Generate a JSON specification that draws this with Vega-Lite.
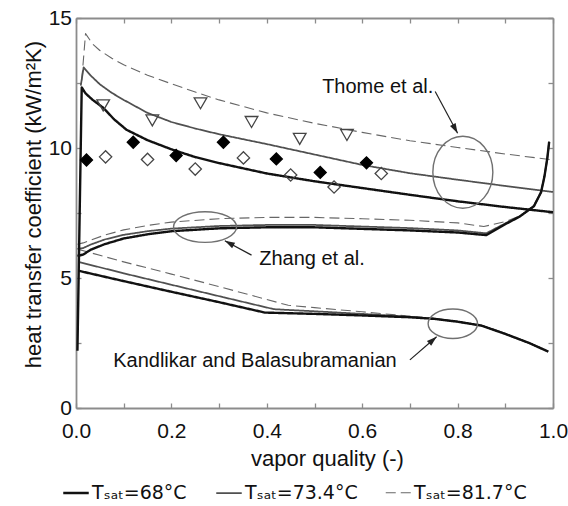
{
  "$schema": "https://vega.github.io/schema/vega-lite/v6.json",
  "width": 477,
  "height": 390,
  "autosize": {"type": "none"},
  "padding": {"left": 76, "top": 18, "right": 15, "bottom": 98},
  "background": "white",
  "config": {
    "view": {"stroke": null},
    "font": "Liberation Sans",
    "axis": {
      "grid": false,
      "domainColor": "#8c8c8c",
      "domainWidth": 1.8,
      "tickColor": "#8c8c8c",
      "tickWidth": 1.3,
      "tickSize": -5,
      "labelFont": "Liberation Sans",
      "labelFontSize": 21,
      "labelColor": "#111111",
      "labelFlush": false,
      "labelOverlap": false,
      "titleFont": "Liberation Sans",
      "titleFontSize": 22,
      "titleFontWeight": "normal",
      "titleColor": "#111111"
    }
  },
  "datasets": {
    "curves": [
      {"series": "Tₛₐₜ=81.7°C", "model": "Thome", "x": 0.012, "y": 12.6},
      {"series": "Tₛₐₜ=81.7°C", "model": "Thome", "x": 0.02, "y": 14.4},
      {"series": "Tₛₐₜ=81.7°C", "model": "Thome", "x": 0.035, "y": 14.0},
      {"series": "Tₛₐₜ=81.7°C", "model": "Thome", "x": 0.05, "y": 13.75},
      {"series": "Tₛₐₜ=81.7°C", "model": "Thome", "x": 0.075, "y": 13.45},
      {"series": "Tₛₐₜ=81.7°C", "model": "Thome", "x": 0.1, "y": 13.2},
      {"series": "Tₛₐₜ=81.7°C", "model": "Thome", "x": 0.15, "y": 12.8},
      {"series": "Tₛₐₜ=81.7°C", "model": "Thome", "x": 0.2, "y": 12.47},
      {"series": "Tₛₐₜ=81.7°C", "model": "Thome", "x": 0.25, "y": 12.15},
      {"series": "Tₛₐₜ=81.7°C", "model": "Thome", "x": 0.3, "y": 11.85},
      {"series": "Tₛₐₜ=81.7°C", "model": "Thome", "x": 0.4, "y": 11.35},
      {"series": "Tₛₐₜ=81.7°C", "model": "Thome", "x": 0.5, "y": 10.95},
      {"series": "Tₛₐₜ=81.7°C", "model": "Thome", "x": 0.6, "y": 10.6},
      {"series": "Tₛₐₜ=81.7°C", "model": "Thome", "x": 0.7, "y": 10.28},
      {"series": "Tₛₐₜ=81.7°C", "model": "Thome", "x": 0.8, "y": 10.02},
      {"series": "Tₛₐₜ=81.7°C", "model": "Thome", "x": 0.9, "y": 9.77},
      {"series": "Tₛₐₜ=81.7°C", "model": "Thome", "x": 1.0, "y": 9.54},
      {"series": "Tₛₐₜ=81.7°C", "model": "Zhang", "x": 0.003, "y": 6.3},
      {"series": "Tₛₐₜ=81.7°C", "model": "Zhang", "x": 0.015, "y": 6.35},
      {"series": "Tₛₐₜ=81.7°C", "model": "Zhang", "x": 0.03, "y": 6.45},
      {"series": "Tₛₐₜ=81.7°C", "model": "Zhang", "x": 0.06, "y": 6.65},
      {"series": "Tₛₐₜ=81.7°C", "model": "Zhang", "x": 0.1, "y": 6.85},
      {"series": "Tₛₐₜ=81.7°C", "model": "Zhang", "x": 0.15, "y": 7.02},
      {"series": "Tₛₐₜ=81.7°C", "model": "Zhang", "x": 0.2, "y": 7.15},
      {"series": "Tₛₐₜ=81.7°C", "model": "Zhang", "x": 0.3, "y": 7.28},
      {"series": "Tₛₐₜ=81.7°C", "model": "Zhang", "x": 0.4, "y": 7.33},
      {"series": "Tₛₐₜ=81.7°C", "model": "Zhang", "x": 0.5, "y": 7.33},
      {"series": "Tₛₐₜ=81.7°C", "model": "Zhang", "x": 0.6, "y": 7.28},
      {"series": "Tₛₐₜ=81.7°C", "model": "Zhang", "x": 0.7, "y": 7.22},
      {"series": "Tₛₐₜ=81.7°C", "model": "Zhang", "x": 0.8, "y": 7.12},
      {"series": "Tₛₐₜ=81.7°C", "model": "Zhang", "x": 0.855, "y": 6.98},
      {"series": "Tₛₐₜ=81.7°C", "model": "Zhang", "x": 0.9, "y": 7.17},
      {"series": "Tₛₐₜ=81.7°C", "model": "Zhang", "x": 0.93, "y": 7.38},
      {"series": "Tₛₐₜ=81.7°C", "model": "Zhang", "x": 0.945, "y": 7.55},
      {"series": "Tₛₐₜ=81.7°C", "model": "Zhang", "x": 0.96, "y": 7.78},
      {"series": "Tₛₐₜ=81.7°C", "model": "Zhang", "x": 0.975, "y": 8.3},
      {"series": "Tₛₐₜ=81.7°C", "model": "Zhang", "x": 0.982, "y": 8.9},
      {"series": "Tₛₐₜ=81.7°C", "model": "Zhang", "x": 0.988, "y": 9.6},
      {"series": "Tₛₐₜ=81.7°C", "model": "Zhang", "x": 0.992, "y": 10.24},
      {"series": "Tₛₐₜ=81.7°C", "model": "Kandlikar", "x": 0.005, "y": 6.1},
      {"series": "Tₛₐₜ=81.7°C", "model": "Kandlikar", "x": 0.1, "y": 5.62},
      {"series": "Tₛₐₜ=81.7°C", "model": "Kandlikar", "x": 0.2, "y": 5.15},
      {"series": "Tₛₐₜ=81.7°C", "model": "Kandlikar", "x": 0.3, "y": 4.67},
      {"series": "Tₛₐₜ=81.7°C", "model": "Kandlikar", "x": 0.445, "y": 3.95},
      {"series": "Tₛₐₜ=81.7°C", "model": "Kandlikar", "x": 0.5, "y": 3.86},
      {"series": "Tₛₐₜ=81.7°C", "model": "Kandlikar", "x": 0.6, "y": 3.7},
      {"series": "Tₛₐₜ=81.7°C", "model": "Kandlikar", "x": 0.7, "y": 3.53},
      {"series": "Tₛₐₜ=81.7°C", "model": "Kandlikar", "x": 0.75, "y": 3.44},
      {"series": "Tₛₐₜ=81.7°C", "model": "Kandlikar", "x": 0.8, "y": 3.32},
      {"series": "Tₛₐₜ=81.7°C", "model": "Kandlikar", "x": 0.85, "y": 3.17},
      {"series": "Tₛₐₜ=81.7°C", "model": "Kandlikar", "x": 0.9, "y": 2.85},
      {"series": "Tₛₐₜ=81.7°C", "model": "Kandlikar", "x": 0.95, "y": 2.5},
      {"series": "Tₛₐₜ=81.7°C", "model": "Kandlikar", "x": 0.99, "y": 2.17},

      {"series": "Tₛₐₜ=73.4°C", "model": "Thome", "x": 0.01, "y": 12.4},
      {"series": "Tₛₐₜ=73.4°C", "model": "Thome", "x": 0.016, "y": 13.1},
      {"series": "Tₛₐₜ=73.4°C", "model": "Thome", "x": 0.03, "y": 12.8},
      {"series": "Tₛₐₜ=73.4°C", "model": "Thome", "x": 0.05, "y": 12.45},
      {"series": "Tₛₐₜ=73.4°C", "model": "Thome", "x": 0.075, "y": 12.12},
      {"series": "Tₛₐₜ=73.4°C", "model": "Thome", "x": 0.1, "y": 11.85},
      {"series": "Tₛₐₜ=73.4°C", "model": "Thome", "x": 0.15, "y": 11.35},
      {"series": "Tₛₐₜ=73.4°C", "model": "Thome", "x": 0.2, "y": 11.0},
      {"series": "Tₛₐₜ=73.4°C", "model": "Thome", "x": 0.25, "y": 10.75},
      {"series": "Tₛₐₜ=73.4°C", "model": "Thome", "x": 0.3, "y": 10.53},
      {"series": "Tₛₐₜ=73.4°C", "model": "Thome", "x": 0.4, "y": 10.15},
      {"series": "Tₛₐₜ=73.4°C", "model": "Thome", "x": 0.5, "y": 9.75},
      {"series": "Tₛₐₜ=73.4°C", "model": "Thome", "x": 0.6, "y": 9.35},
      {"series": "Tₛₐₜ=73.4°C", "model": "Thome", "x": 0.7, "y": 9.03},
      {"series": "Tₛₐₜ=73.4°C", "model": "Thome", "x": 0.8, "y": 8.78},
      {"series": "Tₛₐₜ=73.4°C", "model": "Thome", "x": 0.9, "y": 8.54},
      {"series": "Tₛₐₜ=73.4°C", "model": "Thome", "x": 1.0, "y": 8.31},
      {"series": "Tₛₐₜ=73.4°C", "model": "Zhang", "x": 0.003, "y": 6.12},
      {"series": "Tₛₐₜ=73.4°C", "model": "Zhang", "x": 0.015, "y": 6.15},
      {"series": "Tₛₐₜ=73.4°C", "model": "Zhang", "x": 0.03, "y": 6.28},
      {"series": "Tₛₐₜ=73.4°C", "model": "Zhang", "x": 0.06, "y": 6.48},
      {"series": "Tₛₐₜ=73.4°C", "model": "Zhang", "x": 0.1, "y": 6.66},
      {"series": "Tₛₐₜ=73.4°C", "model": "Zhang", "x": 0.15, "y": 6.8},
      {"series": "Tₛₐₜ=73.4°C", "model": "Zhang", "x": 0.2, "y": 6.9},
      {"series": "Tₛₐₜ=73.4°C", "model": "Zhang", "x": 0.3, "y": 7.0},
      {"series": "Tₛₐₜ=73.4°C", "model": "Zhang", "x": 0.4, "y": 7.04},
      {"series": "Tₛₐₜ=73.4°C", "model": "Zhang", "x": 0.5, "y": 7.04},
      {"series": "Tₛₐₜ=73.4°C", "model": "Zhang", "x": 0.6, "y": 6.98},
      {"series": "Tₛₐₜ=73.4°C", "model": "Zhang", "x": 0.7, "y": 6.92},
      {"series": "Tₛₐₜ=73.4°C", "model": "Zhang", "x": 0.8, "y": 6.83},
      {"series": "Tₛₐₜ=73.4°C", "model": "Zhang", "x": 0.86, "y": 6.72},
      {"series": "Tₛₐₜ=73.4°C", "model": "Zhang", "x": 0.9, "y": 7.1},
      {"series": "Tₛₐₜ=73.4°C", "model": "Zhang", "x": 0.93, "y": 7.37},
      {"series": "Tₛₐₜ=73.4°C", "model": "Zhang", "x": 0.96, "y": 7.77},
      {"series": "Tₛₐₜ=73.4°C", "model": "Zhang", "x": 0.975, "y": 8.3},
      {"series": "Tₛₐₜ=73.4°C", "model": "Zhang", "x": 0.982, "y": 8.9},
      {"series": "Tₛₐₜ=73.4°C", "model": "Zhang", "x": 0.988, "y": 9.6},
      {"series": "Tₛₐₜ=73.4°C", "model": "Zhang", "x": 0.992, "y": 10.24},
      {"series": "Tₛₐₜ=73.4°C", "model": "Kandlikar", "x": 0.005, "y": 5.62},
      {"series": "Tₛₐₜ=73.4°C", "model": "Kandlikar", "x": 0.1, "y": 5.18},
      {"series": "Tₛₐₜ=73.4°C", "model": "Kandlikar", "x": 0.2, "y": 4.74},
      {"series": "Tₛₐₜ=73.4°C", "model": "Kandlikar", "x": 0.3, "y": 4.3},
      {"series": "Tₛₐₜ=73.4°C", "model": "Kandlikar", "x": 0.415, "y": 3.8},
      {"series": "Tₛₐₜ=73.4°C", "model": "Kandlikar", "x": 0.5, "y": 3.72},
      {"series": "Tₛₐₜ=73.4°C", "model": "Kandlikar", "x": 0.6, "y": 3.62},
      {"series": "Tₛₐₜ=73.4°C", "model": "Kandlikar", "x": 0.7, "y": 3.51},
      {"series": "Tₛₐₜ=73.4°C", "model": "Kandlikar", "x": 0.75, "y": 3.44},
      {"series": "Tₛₐₜ=73.4°C", "model": "Kandlikar", "x": 0.8, "y": 3.32},
      {"series": "Tₛₐₜ=73.4°C", "model": "Kandlikar", "x": 0.85, "y": 3.17},
      {"series": "Tₛₐₜ=73.4°C", "model": "Kandlikar", "x": 0.9, "y": 2.85},
      {"series": "Tₛₐₜ=73.4°C", "model": "Kandlikar", "x": 0.95, "y": 2.5},
      {"series": "Tₛₐₜ=73.4°C", "model": "Kandlikar", "x": 0.99, "y": 2.17},

      {"series": "Tₛₐₜ=68°C", "model": "Thome", "x": 0.003, "y": 2.2},
      {"series": "Tₛₐₜ=68°C", "model": "Thome", "x": 0.012, "y": 12.33},
      {"series": "Tₛₐₜ=68°C", "model": "Thome", "x": 0.02, "y": 12.1},
      {"series": "Tₛₐₜ=68°C", "model": "Thome", "x": 0.035, "y": 11.85},
      {"series": "Tₛₐₜ=68°C", "model": "Thome", "x": 0.057, "y": 11.55},
      {"series": "Tₛₐₜ=68°C", "model": "Thome", "x": 0.08, "y": 11.1},
      {"series": "Tₛₐₜ=68°C", "model": "Thome", "x": 0.106, "y": 10.7},
      {"series": "Tₛₐₜ=68°C", "model": "Thome", "x": 0.15, "y": 10.3},
      {"series": "Tₛₐₜ=68°C", "model": "Thome", "x": 0.2, "y": 9.95},
      {"series": "Tₛₐₜ=68°C", "model": "Thome", "x": 0.25, "y": 9.65},
      {"series": "Tₛₐₜ=68°C", "model": "Thome", "x": 0.3, "y": 9.42},
      {"series": "Tₛₐₜ=68°C", "model": "Thome", "x": 0.4, "y": 9.02},
      {"series": "Tₛₐₜ=68°C", "model": "Thome", "x": 0.5, "y": 8.72},
      {"series": "Tₛₐₜ=68°C", "model": "Thome", "x": 0.6, "y": 8.46},
      {"series": "Tₛₐₜ=68°C", "model": "Thome", "x": 0.7, "y": 8.2},
      {"series": "Tₛₐₜ=68°C", "model": "Thome", "x": 0.8, "y": 7.95},
      {"series": "Tₛₐₜ=68°C", "model": "Thome", "x": 0.9, "y": 7.73},
      {"series": "Tₛₐₜ=68°C", "model": "Thome", "x": 1.0, "y": 7.53},
      {"series": "Tₛₐₜ=68°C", "model": "Zhang", "x": 0.003, "y": 5.85},
      {"series": "Tₛₐₜ=68°C", "model": "Zhang", "x": 0.015, "y": 5.9},
      {"series": "Tₛₐₜ=68°C", "model": "Zhang", "x": 0.03, "y": 6.08},
      {"series": "Tₛₐₜ=68°C", "model": "Zhang", "x": 0.06, "y": 6.3},
      {"series": "Tₛₐₜ=68°C", "model": "Zhang", "x": 0.1, "y": 6.52},
      {"series": "Tₛₐₜ=68°C", "model": "Zhang", "x": 0.15, "y": 6.68},
      {"series": "Tₛₐₜ=68°C", "model": "Zhang", "x": 0.2, "y": 6.8},
      {"series": "Tₛₐₜ=68°C", "model": "Zhang", "x": 0.3, "y": 6.91},
      {"series": "Tₛₐₜ=68°C", "model": "Zhang", "x": 0.4, "y": 6.95},
      {"series": "Tₛₐₜ=68°C", "model": "Zhang", "x": 0.5, "y": 6.95},
      {"series": "Tₛₐₜ=68°C", "model": "Zhang", "x": 0.6, "y": 6.89},
      {"series": "Tₛₐₜ=68°C", "model": "Zhang", "x": 0.7, "y": 6.83},
      {"series": "Tₛₐₜ=68°C", "model": "Zhang", "x": 0.8, "y": 6.75},
      {"series": "Tₛₐₜ=68°C", "model": "Zhang", "x": 0.86, "y": 6.65},
      {"series": "Tₛₐₜ=68°C", "model": "Zhang", "x": 0.9, "y": 7.07},
      {"series": "Tₛₐₜ=68°C", "model": "Zhang", "x": 0.93, "y": 7.36},
      {"series": "Tₛₐₜ=68°C", "model": "Zhang", "x": 0.96, "y": 7.76},
      {"series": "Tₛₐₜ=68°C", "model": "Zhang", "x": 0.975, "y": 8.3},
      {"series": "Tₛₐₜ=68°C", "model": "Zhang", "x": 0.982, "y": 8.9},
      {"series": "Tₛₐₜ=68°C", "model": "Zhang", "x": 0.988, "y": 9.6},
      {"series": "Tₛₐₜ=68°C", "model": "Zhang", "x": 0.992, "y": 10.24},
      {"series": "Tₛₐₜ=68°C", "model": "Kandlikar", "x": 0.005, "y": 5.28},
      {"series": "Tₛₐₜ=68°C", "model": "Kandlikar", "x": 0.1, "y": 4.88},
      {"series": "Tₛₐₜ=68°C", "model": "Kandlikar", "x": 0.2, "y": 4.47},
      {"series": "Tₛₐₜ=68°C", "model": "Kandlikar", "x": 0.3, "y": 4.07},
      {"series": "Tₛₐₜ=68°C", "model": "Kandlikar", "x": 0.396, "y": 3.67},
      {"series": "Tₛₐₜ=68°C", "model": "Kandlikar", "x": 0.5, "y": 3.62},
      {"series": "Tₛₐₜ=68°C", "model": "Kandlikar", "x": 0.6, "y": 3.56},
      {"series": "Tₛₐₜ=68°C", "model": "Kandlikar", "x": 0.7, "y": 3.49},
      {"series": "Tₛₐₜ=68°C", "model": "Kandlikar", "x": 0.75, "y": 3.43},
      {"series": "Tₛₐₜ=68°C", "model": "Kandlikar", "x": 0.8, "y": 3.32},
      {"series": "Tₛₐₜ=68°C", "model": "Kandlikar", "x": 0.85, "y": 3.17},
      {"series": "Tₛₐₜ=68°C", "model": "Kandlikar", "x": 0.9, "y": 2.85},
      {"series": "Tₛₐₜ=68°C", "model": "Kandlikar", "x": 0.95, "y": 2.5},
      {"series": "Tₛₐₜ=68°C", "model": "Kandlikar", "x": 0.99, "y": 2.17}
    ],
    "markers": [
      {"set": "68", "x": 0.022, "y": 9.54},
      {"set": "68", "x": 0.12, "y": 10.22},
      {"set": "68", "x": 0.21, "y": 9.71},
      {"set": "68", "x": 0.309, "y": 10.22},
      {"set": "68", "x": 0.42, "y": 9.58},
      {"set": "68", "x": 0.512, "y": 9.06},
      {"set": "68", "x": 0.609, "y": 9.43},
      {"set": "73.4", "x": 0.062, "y": 9.66},
      {"set": "73.4", "x": 0.15, "y": 9.56},
      {"set": "73.4", "x": 0.25, "y": 9.19},
      {"set": "73.4", "x": 0.351, "y": 9.62},
      {"set": "73.4", "x": 0.45, "y": 8.96},
      {"set": "73.4", "x": 0.541, "y": 8.5},
      {"set": "73.4", "x": 0.64, "y": 9.02},
      {"set": "81.7", "x": 0.057, "y": 11.64},
      {"set": "81.7", "x": 0.16, "y": 11.06},
      {"set": "81.7", "x": 0.261, "y": 11.72},
      {"set": "81.7", "x": 0.368, "y": 11.0},
      {"set": "81.7", "x": 0.469, "y": 10.35},
      {"set": "81.7", "x": 0.568, "y": 10.5}
    ],
    "ellipses": [
      {"name": "Thome", "x": 0.811, "y": 9.07},
      {"name": "Zhang", "x": 0.2705, "y": 6.96},
      {"name": "Kandlikar", "x": 0.79, "y": 3.24}
    ],
    "arrows": [
      {"name": "Thome", "x": 0.753, "y": 12.17, "x2": 0.8, "y2": 10.57},
      {"name": "Zhang", "x": 0.368, "y": 5.88, "x2": 0.312, "y2": 6.43},
      {"name": "Kandlikar", "x": 0.7, "y": 1.85, "x2": 0.756, "y2": 2.74}
    ],
    "labels": [
      {"text": "Thome et al.", "x": 0.516, "y": 12.1},
      {"text": "Zhang et al.", "x": 0.384, "y": 5.5},
      {"text": "Kandlikar and Balasubramanian", "x": 0.078, "y": 1.59}
    ]
  },
  "layer": [
    {
      "data": {"name": "curves"},
      "mark": {"type": "line", "strokeJoin": "round"},
      "encoding": {
        "x": {
          "field": "x", "type": "quantitative",
          "scale": {"domain": [0, 1], "nice": false},
          "axis": {
            "orient": "bottom",
            "values": [0, 0.1, 0.2, 0.3, 0.4, 0.5, 0.6, 0.7, 0.8, 0.9, 1],
            "labelExpr": "round(datum.value * 10) % 2 == 0 ? format(datum.value, '.1f') : ''",
            "labelPadding": 17,
            "title": "vapor quality (-)",
            "titleX": 251,
            "titleY": 57,
            "titleBaseline": "alphabetic",
            "titleAlign": "center"
          }
        },
        "y": {
          "field": "y", "type": "quantitative",
          "scale": {"domain": [0, 15], "nice": false},
          "axis": {
            "orient": "left",
            "values": [0, 2.5, 5, 7.5, 10, 12.5, 15],
            "labelExpr": "datum.value % 5 == 0 ? format(datum.value, 'd') : ''",
            "labelPadding": 9.5,
            "title": "heat transfer coefficient (kW/m²K)",
            "titleX": -43,
            "titleY": 186,
            "titleBaseline": "middle",
            "titleAlign": "center",
            "titleFontSize": 22
          }
        },
        "color": {
          "field": "series", "type": "nominal",
          "scale": {"domain": ["Tₛₐₜ=68°C", "Tₛₐₜ=73.4°C", "Tₛₐₜ=81.7°C"], "range": ["#111111", "#505050", "#676767"]},
          "legend": {
            "orient": "none",
            "legendX": -14,
            "legendY": 461,
            "direction": "horizontal",
            "title": null,
            "symbolType": "stroke",
            "symbolSize": 650,
            "labelFont": "DejaVu Sans",
            "labelFontSize": 19,
            "labelColor": "#111111",
            "labelOffset": 2,
            "columnPadding": 25
          }
        },
        "strokeDash": {
          "field": "series", "type": "nominal",
          "scale": {"domain": ["Tₛₐₜ=68°C", "Tₛₐₜ=73.4°C", "Tₛₐₜ=81.7°C"], "range": [[1, 0], [1, 0], [10, 5]]}
        },
        "strokeWidth": {
          "field": "series", "type": "nominal",
          "scale": {"domain": ["Tₛₐₜ=68°C", "Tₛₐₜ=73.4°C", "Tₛₐₜ=81.7°C"], "range": [2.4, 1.1, 1.3]}
        },
        "detail": {"field": "model", "type": "nominal"}
      }
    },
    {
      "data": {"name": "markers"},
      "mark": {"type": "point", "filled": true, "strokeWidth": 1.3, "opacity": 1},
      "encoding": {
        "x": {
          "field": "x", "type": "quantitative",
          "scale": {"domain": [0, 1], "nice": false},
          "axis": {"orient": "top", "labels": false, "title": null, "values": [0, 0.1, 0.2, 0.3, 0.4, 0.5, 0.6, 0.7, 0.8, 0.9, 1]}
        },
        "y": {
          "field": "y", "type": "quantitative",
          "scale": {"domain": [0, 15], "nice": false},
          "axis": {"orient": "right", "labels": false, "title": null, "values": [0, 2.5, 5, 7.5, 10, 12.5, 15]}
        },
        "shape": {"field": "set", "type": "nominal", "scale": {"domain": ["68", "73.4", "81.7"], "range": ["diamond", "diamond", "triangle-down"]}, "legend": null},
        "fill": {"field": "set", "type": "nominal", "scale": {"domain": ["68", "73.4", "81.7"], "range": ["#000000", "transparent", "transparent"]}, "legend": null},
        "stroke": {"field": "set", "type": "nominal", "scale": {"domain": ["68", "73.4", "81.7"], "range": ["#000000", "#454545", "#454545"]}, "legend": null},
        "size": {"field": "set", "type": "ordinal", "scale": {"domain": ["68", "73.4", "81.7"], "range": [144, 160, 200]}, "legend": null}
      }
    },
    {
      "data": {"name": "ellipses"},
      "mark": {"type": "point", "filled": false, "stroke": "#707070", "strokeWidth": 1.4, "size": 4, "opacity": 1},
      "encoding": {
        "x": {"field": "x", "type": "quantitative", "scale": {"domain": [0, 1], "nice": false}, "axis": null},
        "y": {"field": "y", "type": "quantitative", "scale": {"domain": [0, 15], "nice": false}, "axis": null},
        "shape": {
          "field": "name", "type": "nominal",
          "scale": {
            "domain": ["Thome", "Zhang", "Kandlikar"],
            "range": [
              "M-30,0A30,36 0 1,0 30,0A30,36 0 1,0 -30,0Z",
              "M-31.5,0A31.5,15.3 0 1,0 31.5,0A31.5,15.3 0 1,0 -31.5,0Z",
              "M-24.7,0A24.7,14.7 0 1,0 24.7,0A24.7,14.7 0 1,0 -24.7,0Z"
            ]
          },
          "legend": null
        }
      }
    },
    {
      "data": {"name": "arrows"},
      "mark": {"type": "rule", "color": "#222222", "strokeWidth": 1.2},
      "encoding": {
        "x": {"field": "x", "type": "quantitative", "scale": {"domain": [0, 1], "nice": false}, "axis": null},
        "y": {"field": "y", "type": "quantitative", "scale": {"domain": [0, 15], "nice": false}, "axis": null},
        "x2": {"field": "x2"},
        "y2": {"field": "y2"}
      }
    },
    {
      "data": {"name": "arrows"},
      "mark": {"type": "point", "filled": true, "color": "#222222", "size": 4, "opacity": 1},
      "encoding": {
        "x": {"field": "x2", "type": "quantitative", "scale": {"domain": [0, 1], "nice": false}, "axis": null},
        "y": {"field": "y2", "type": "quantitative", "scale": {"domain": [0, 15], "nice": false}, "axis": null},
        "shape": {
          "field": "name", "type": "nominal",
          "scale": {
            "domain": ["Thome", "Zhang", "Kandlikar"],
            "range": [
              "M0,0L-7.6,-7.25L-2,-10.3Z",
              "M0,0L10.3,1.9L7.3,7.5Z",
              "M0,0L-5.4,9L-9.7,4.2Z"
            ]
          },
          "legend": null
        }
      }
    },
    {
      "data": {"name": "labels"},
      "mark": {"type": "text", "align": "left", "baseline": "alphabetic", "font": "Liberation Sans", "fontSize": 20, "color": "#111111"},
      "encoding": {
        "x": {"field": "x", "type": "quantitative", "scale": {"domain": [0, 1], "nice": false}, "axis": null},
        "y": {"field": "y", "type": "quantitative", "scale": {"domain": [0, 15], "nice": false}, "axis": null},
        "text": {"field": "text"}
      }
    }
  ],
  "resolve": {
    "axis": {"x": "independent", "y": "independent"},
    "scale": {"shape": "independent", "size": "independent", "fill": "independent", "stroke": "independent"}
  }
}
